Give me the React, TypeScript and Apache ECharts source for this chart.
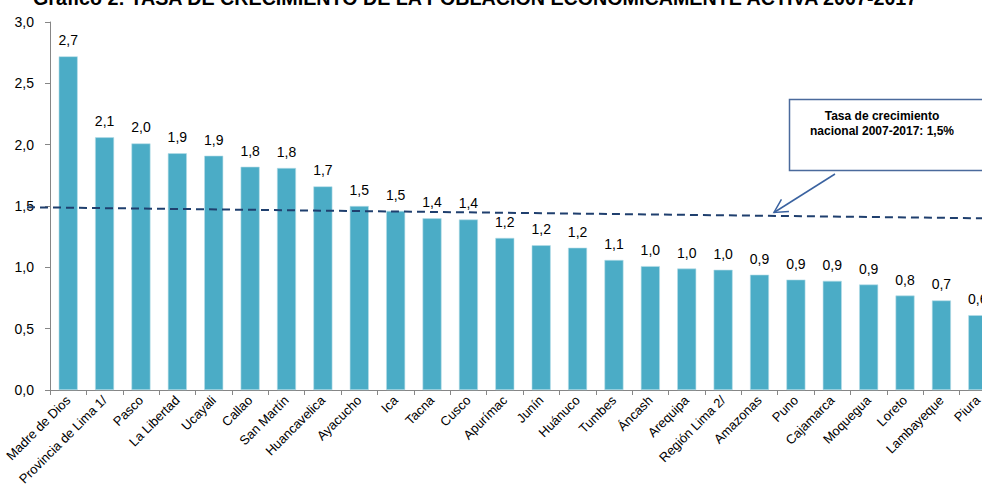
import React, { useEffect, useRef } from "react";
import * as echarts from "echarts";

const titleText = "Gráfico 2: TASA DE CRECIMIENTO DE LA POBLACIÓN ECONÓMICAMENTE ACTIVA 2007-2017";
const categories = [
  "Madre de Dios", "Provincia de Lima 1/", "Pasco", "La Libertad", "Ucayali", "Callao",
  "San Martín", "Huancavelica", "Ayacucho", "Ica", "Tacna", "Cusco", "Apurímac", "Junín",
  "Huánuco", "Tumbes", "Áncash", "Arequipa", "Región Lima 2/", "Amazonas", "Puno",
  "Cajamarca", "Moquegua", "Loreto", "Lambayeque", "Piura",
];
const values = [
  2.72, 2.06, 2.01, 1.93, 1.91, 1.82, 1.81, 1.66, 1.5, 1.46, 1.4, 1.39, 1.24, 1.18,
  1.16, 1.06, 1.01, 0.99, 0.98, 0.94, 0.9, 0.89, 0.86, 0.77, 0.73, 0.61,
];
const yTicks = [0, 0.5, 1, 1.5, 2, 2.5, 3];
const nationalLine = [1.49, 1.4];
const noteLines = ["Tasa de crecimiento", "nacional 2007-2017: 1,5%"];

const FONT = "'Liberation Sans', Arial, sans-serif";
const fmt = (v: number) => v.toFixed(1).replace(".", ",");

export default function App() {
  const ref = useRef<HTMLDivElement>(null);
  useEffect(() => {
    if (!ref.current) return;
    const chart = echarts.init(ref.current, undefined, { renderer: "svg" });
    chart.setOption({
      animation: false,
      textStyle: { fontFamily: FONT },
      grid: { left: 50, top: 22, width: 946, height: 368, containLabel: false, outerBoundsMode: "none" },
      xAxis: {
        type: "category",
        data: categories,
        axisLine: { lineStyle: { color: "#868686", width: 1 } },
        axisTick: { show: true, length: 5, interval: 0, lineStyle: { color: "#868686" } },
        axisLabel: { interval: 0, rotate: 45, fontSize: 13, color: "#000", margin: 8, fontFamily: FONT },
      },
      yAxis: {
        type: "value",
        min: yTicks[0],
        max: yTicks[yTicks.length - 1],
        interval: 0.5,
        axisLine: { show: true, lineStyle: { color: "#868686", width: 1 } },
        axisTick: { show: true, length: 5, lineStyle: { color: "#868686" } },
        splitLine: { show: false },
        axisLabel: { formatter: (v: number) => fmt(v), fontSize: 14, color: "#000", margin: 16, fontFamily: FONT },
      },
      series: [
        {
          type: "bar",
          data: values,
          barWidth: 19,
          itemStyle: { color: "#4BACC6", borderColor: "#B7DEE8", borderWidth: 0.6 },
          label: {
            show: true,
            position: "top",
            distance: 9,
            fontSize: 14,
            color: "#000",
            fontFamily: FONT,
            formatter: (p: any) => fmt(p.value),
          },
        },
      ],
    });

    const y0 = chart.convertToPixel({ yAxisIndex: 0 }, nationalLine[0]) as number;
    const y1 = chart.convertToPixel({ yAxisIndex: 0 }, nationalLine[1]) as number;
    const x0 = 27;
    const x1 = 982;
    const tip = [774, 212.5];
    const start = [835, 174];
    const ang = Math.atan2(start[1] - tip[1], start[0] - tip[0]);
    const hl = 15;
    const spread = (28 * Math.PI) / 180;
    const arm1 = [tip[0] + hl * Math.cos(ang - spread), tip[1] + hl * Math.sin(ang - spread)];
    const arm2 = [tip[0] + hl * Math.cos(ang + spread), tip[1] + hl * Math.sin(ang + spread)];

    chart.setOption({
      graphic: [
        {
          type: "text",
          x: 33,
          y: 8,
          style: {
            text: titleText,
            font: `bold 19.7px ${FONT}`,
            fill: "#000",
            verticalAlign: "bottom",
          },
        },
        {
          type: "line",
          shape: { x1: x0, y1: y0, x2: x1, y2: y1 },
          style: { stroke: "#1F3F6E", lineWidth: 2, lineDash: [8, 5] },
          z: 10,
        },
        {
          type: "rect",
          shape: { x: 789.5, y: 99.5, width: 194, height: 71 },
          style: { fill: "#fff", stroke: "#4A6A9C", lineWidth: 1.5 },
          z: 10,
        },
        {
          type: "text",
          x: 882,
          y: 108,
          style: {
            text: noteLines.join("\n"),
            font: `bold 12px ${FONT}`,
            fill: "#000",
            align: "center",
            verticalAlign: "top",
            lineHeight: 15,
          },
          z: 11,
        },
        {
          type: "line",
          shape: { x1: start[0], y1: start[1], x2: tip[0], y2: tip[1] },
          style: { stroke: "#3A62A0", lineWidth: 1.5 },
          z: 10,
        },
        {
          type: "polyline",
          shape: { points: [arm1, tip, arm2] },
          style: { stroke: "#3A62A0", lineWidth: 1.5, fill: "none" },
          z: 10,
        },
      ],
    });
    return () => chart.dispose();
  }, []);
  return (
    <div
      ref={ref}
      style={{ position: "absolute", left: 0, top: 0, width: 982, height: 486, background: "#fff" }}
    />
  );
}
